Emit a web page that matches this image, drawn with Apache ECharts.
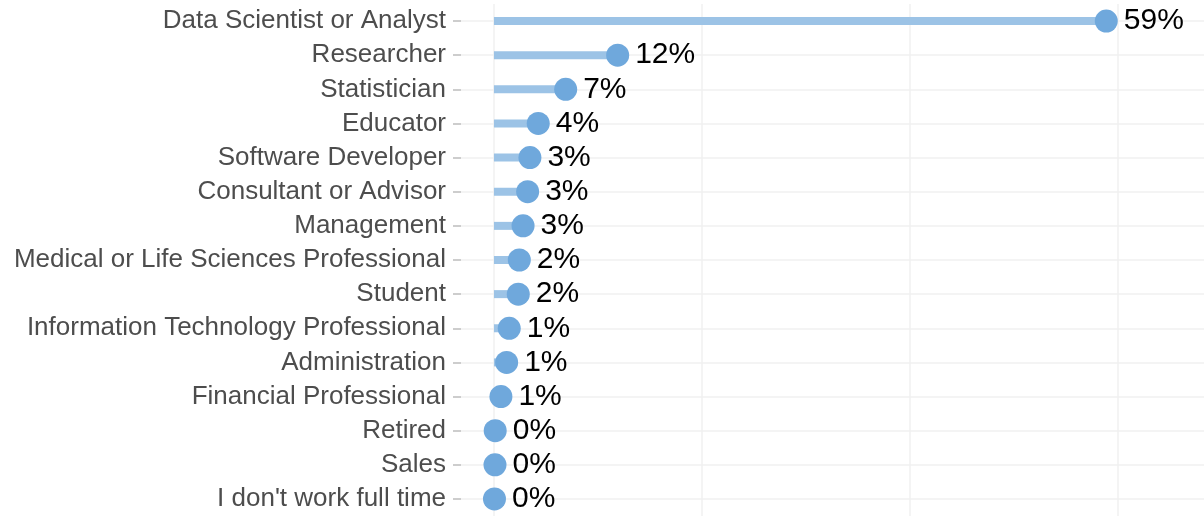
<!doctype html>
<html>
<head>
<meta charset='utf-8'>
<title>Job titles</title>
<style>
html, body { margin: 0; padding: 0; background: #fff; }
#chart { width: 1204px; height: 519px; }
</style>
</head>
<body>
<div id="chart"></div>
<script src="https://cdn.jsdelivr.net/npm/echarts@6/dist/echarts.min.js"></script>
<script>
// categories, top to bottom
const roles = [
    'Data Scientist or Analyst', 'Researcher', 'Statistician', 'Educator',
    'Software Developer', 'Consultant or Advisor', 'Management',
    'Medical or Life Sciences Professional', 'Student',
    'Information Technology Professional', 'Administration',
    'Financial Professional', 'Retired', 'Sales', "I don't work full time"
];
// share in percent
const share = [58.9, 11.9, 6.9, 4.26, 3.46, 3.24, 2.8, 2.44, 2.34, 1.47, 1.22, 0.67, 0.12, 0.1, 0.05];
// vertical grid lines
const xTicks = [0, 20, 40, 60];

const gridColor = '#f1f1f1';

const chart = echarts.init(document.getElementById('chart'));
chart.setOption({
    animation: false,
    textStyle: { fontFamily: 'Liberation Sans, Arial, sans-serif' },
    grid: { left: 461, right: 0, top: 4, bottom: 3, containLabel: false },
    xAxis: {
        type: 'value',
        min: -3.17,
        max: 68.3,
        axisLabel: { show: false },
        axisLine: { show: false },
        axisTick: { show: false },
        splitLine: { show: false }
    },
    yAxis: {
        type: 'category',
        data: roles,
        inverse: true,
        axisLine: { show: false, onZero: false },
        axisTick: { show: true, alignWithLabel: true, length: 8, lineStyle: { color: '#bdbdbd', width: 1.5 } },
        axisLabel: { color: '#4d4d4d', fontSize: 26, margin: 15 },
        splitLine: { show: false }
    },
    series: [
        {
            type: 'bar',
            data: share,
            barWidth: 8,
            itemStyle: { color: '#9cc3e6' },
            // horizontal grid lines through each category
            markLine: {
                silent: true,
                z: 0,
                symbol: 'none',
                label: { show: false },
                lineStyle: { color: gridColor, width: 1.5, type: 'solid' },
                data: roles.map(r => ({ yAxis: r }))
            },
            z: 2
        },
        {
            type: 'scatter',
            data: share.map((v, i) => [v, i]),
            symbolSize: 23,
            itemStyle: { color: '#6fa8dc', opacity: 1 },
            label: {
                show: true,
                position: 'right',
                distance: 6,
                color: '#000',
                fontSize: 30,
                formatter: p => Math.round(p.value[0]) + '%'
            },
            markLine: {
                silent: true,
                z: 0,
                symbol: 'none',
                label: { show: false },
                lineStyle: { color: gridColor, width: 1.5, type: 'solid' },
                data: xTicks.map(v => ({ xAxis: v }))
            },
            z: 3
        }
    ]
});
</script>
</body>
</html>
